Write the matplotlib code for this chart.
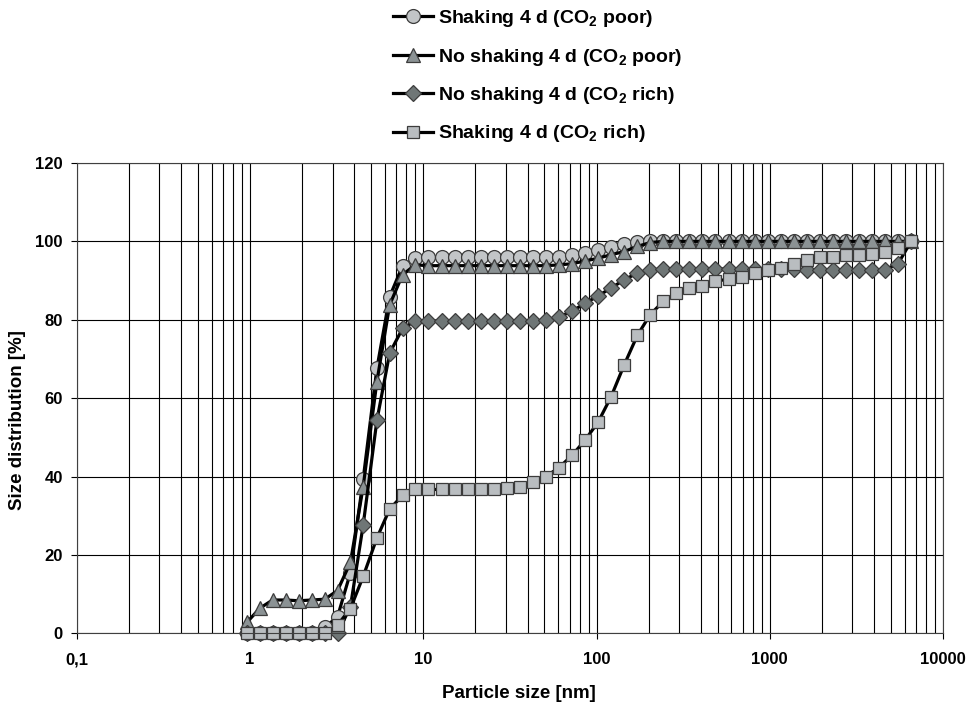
import matplotlib
matplotlib.use('Agg')
import matplotlib.pyplot as plt
from matplotlib.ticker import LogLocator, NullFormatter

plt.rcParams['font.family'] = 'Liberation Sans'
plt.rcParams['font.weight'] = 'bold'
plt.rcParams['mathtext.fontset'] = 'custom'
plt.rcParams['mathtext.rm'] = 'Liberation Sans:bold'
plt.rcParams['mathtext.it'] = 'Liberation Sans:bold'
plt.rcParams['mathtext.bf'] = 'Liberation Sans:bold'
plt.rcParams['mathtext.default'] = 'rm'

# particle size channels [nm]
size_nm = [0.96, 1.14, 1.35, 1.61, 1.91, 2.28, 2.70, 3.2, 3.8, 4.5,
           5.4, 6.4, 7.6, 9.0, 10.7, 12.8, 15.2, 18.1, 21.5, 25.5,
           30.4, 36.1, 43.0, 51.1, 60.8, 72.3, 85.9, 102.2, 121.5, 144.5,
           172, 204, 243, 289, 344, 409, 486, 578, 688, 818,
           972, 1156, 1375, 1635, 1944, 2312, 2750, 3270, 3890, 4620,
           5500, 6540]

# cumulative size distribution [%]
shaking_poor = [0, 0, 0, 0, 0, 0, 1.5, 4.2, 15.5, 39.3,
                67.6, 85.9, 93.8, 95.7, 95.9, 95.9, 95.9, 95.9, 95.9, 95.9,
                95.9, 95.9, 96.0, 96.0, 96.1, 96.6, 97.0, 97.7, 98.5, 99.3,
                99.8, 100, 100, 100, 100, 100, 100, 100, 100, 100,
                100, 100, 100, 100, 100, 100, 100, 100, 100, 100,
                100, 100]
noshake_poor = [2.8, 6.4, 8.5, 8.5, 8.3, 8.5, 8.7, 10.9, 18.1, 37.4,
                64.2, 83.8, 91.5, 94.0, 93.8, 93.8, 93.8, 93.8, 93.8, 93.8,
                93.8, 93.8, 93.8, 93.8, 94.0, 94.3, 95.0, 95.7, 96.6, 97.4,
                98.7, 99.7, 100, 100, 100, 100, 100, 100, 100, 100,
                100, 100, 100, 100, 100, 100, 100, 100, 100, 100,
                100, 100]
noshake_rich = [0, 0, 0, 0, 0, 0, 0, 0, 6.8, 27.6,
                54.3, 71.5, 77.8, 79.7, 79.7, 79.7, 79.7, 79.7, 79.7, 79.7,
                79.7, 79.7, 79.7, 79.9, 80.7, 82.2, 84.2, 86.1, 88.1, 90.2,
                91.9, 92.7, 93.0, 93.0, 93.0, 93.0, 93.0, 92.9, 92.9, 92.9,
                92.9, 92.9, 92.9, 92.7, 92.8, 92.8, 92.8, 92.8, 92.8, 92.8,
                94.3, 100]
shaking_rich = [0, 0, 0, 0, 0, 0, 0, 2.1, 6.3, 14.5,
                24.3, 31.7, 35.2, 36.7, 36.7, 36.7, 36.7, 36.7, 36.7, 36.7,
                37.0, 37.3, 38.5, 40.0, 42.3, 45.4, 49.3, 53.9, 60.4, 68.5,
                76.0, 81.3, 84.7, 86.8, 88.1, 88.7, 89.8, 90.4, 91.0, 91.9,
                92.6, 93.3, 94.2, 95.3, 95.9, 96.1, 96.4, 96.4, 96.7, 97.3,
                98.3, 100]

labels = ['Shaking 4 d (CO$_2$ poor)', 'No shaking 4 d (CO$_2$ poor)',
          'No shaking 4 d (CO$_2$ rich)', 'Shaking 4 d (CO$_2$ rich)']

fig = plt.figure(figsize=(9.7, 7.08), dpi=100)
ax = fig.add_axes([0.0791, 0.1055, 0.8931, 0.6643])

edge = '#3c3c3c'
ax.plot(size_nm, shaking_poor, '-o', color='black', lw=2.3, ms=10,
        mfc='#c2c5c7', mec=edge, mew=0.9, clip_on=False, label=labels[0])
ax.plot(size_nm, noshake_poor, '-^', color='black', lw=2.3, ms=10.5,
        mfc='#8b9294', mec=edge, mew=0.9, clip_on=False, label=labels[1])
ax.plot(size_nm, noshake_rich, '-D', color='black', lw=2.3, ms=8,
        mfc='#6f7676', mec=edge, mew=0.9, clip_on=False, label=labels[2])
ax.plot(size_nm, shaking_rich, '-s', color='black', lw=2.3, ms=9,
        mfc='#b9bdc0', mec=edge, mew=0.9, clip_on=False, label=labels[3])

ax.set_xscale('log')
ax.set_xlim(0.1, 10000)
ax.set_ylim(0, 120)
ax.set_yticks(range(0, 121, 20))
ax.set_xticks([0.1, 1, 10, 100, 1000, 10000])
ax.set_xticklabels(['0,1', '1', '10', '100', '1000', '10000'])
ax.xaxis.set_minor_locator(LogLocator(base=10, subs=range(2, 10)))
ax.xaxis.set_minor_formatter(NullFormatter())
ax.tick_params(which='minor', length=0)
ax.tick_params(which='major', length=4.5, width=0.8, labelsize=12)
ax.tick_params(axis='x', pad=9)
ax.tick_params(axis='y', pad=5.5)
ax.grid(True, which='both', axis='x', color='black', lw=0.8)
ax.grid(True, which='major', axis='y', color='black', lw=0.8)
ax.set_axisbelow(True)
for s in ax.spines.values():
    s.set_color('#404040')
    s.set_linewidth(0.8)

fig.text(519 / 970, 1 - 694 / 708, 'Particle size [nm]', fontsize=13.5,
         fontweight='bold', ha='center', va='center')
fig.text(18 / 970, 1 - 420 / 708, 'Size distribution [%]', fontsize=13.5,
         fontweight='bold', ha='center', va='center', rotation=90)

fig.legend(loc='upper left', bbox_to_anchor=(393 / 970, 1 - 8 / 708),
           frameon=False, fontsize=14, handlelength=2.05, handletextpad=0.25,
           labelspacing=0.9, borderpad=0, borderaxespad=0)

fig.savefig('out.png', dpi=100)
